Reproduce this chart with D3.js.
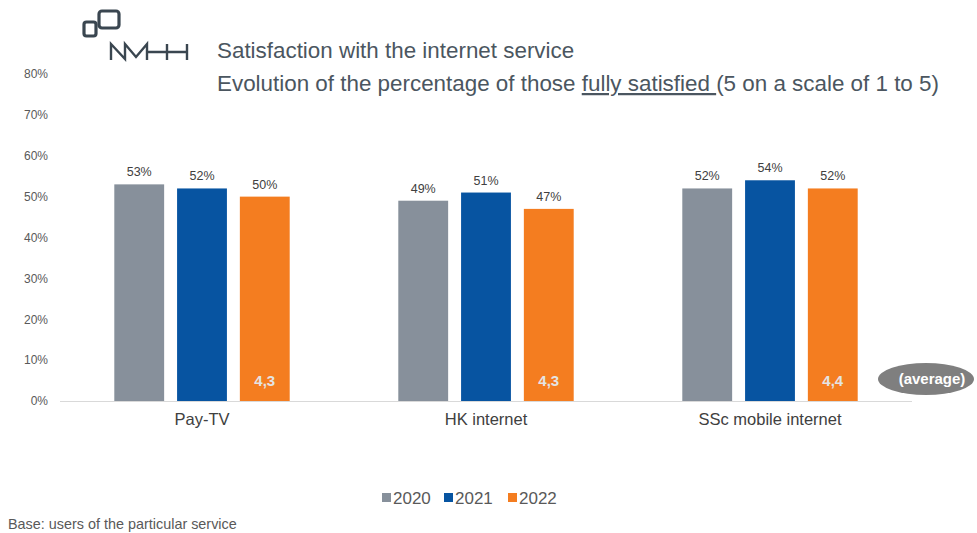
<!DOCTYPE html>
<html>
<head>
<meta charset="utf-8">
<script src="https://cdn.jsdelivr.net/npm/d3@7"></script>
<style>
  html, body { margin: 0; padding: 0; background: #fff; }
  svg { display: block; font-family: Arial, "Liberation Sans", sans-serif; }
</style>
</head>
<body>
<svg id="chart" width="977" height="533"></svg>
<script>
// Services surveyed
const categories = ["Pay-TV", "HK internet", "SSc mobile internet"];
// Survey years
const years = ["2020", "2021", "2022"];
// Share of fully satisfied users (%), per year
const values2020 = [53, 49, 52];
const values2021 = [52, 51, 54];
const values2022 = [50, 47, 52];
// Average score (1-5 scale) for 2022
const averages2022 = ["4,3", "4,3", "4,4"];
// Y axis ticks
const yTicks = [0, 10, 20, 30, 40, 50, 60, 70, 80];

const colors = { "2020": "#87909b", "2021": "#0754a1", "2022": "#f47d20" };
const seriesByYear = { "2020": values2020, "2021": values2021, "2022": values2022 };

const svg = d3.select("#chart");

// Plot area
const x0 = d3.scaleBand().domain(categories).range([60, 912]).paddingInner(0).paddingOuter(0);
const x1 = d3.scaleBand().domain(years).range([0, x0.bandwidth()]).paddingInner(0.206).paddingOuter(0.865);
const y = d3.scaleLinear().domain([0, 80]).range([401, 74]);

// Y axis labels (no line)
const yAxis = d3.axisLeft(y).tickValues(yTicks).tickFormat(d => d + "%").tickSize(0).tickPadding(0);
const gy = svg.append("g").attr("transform", "translate(48,0)").call(yAxis);
gy.select(".domain").remove();
gy.selectAll("text").attr("fill", "#595959").style("font-size", "12px").style("font-family", "Arial, 'Liberation Sans', sans-serif");

// Bars
const groups = svg.append("g").selectAll("g")
  .data(categories)
  .join("g")
  .attr("transform", d => `translate(${x0(d)},0)`);

groups.selectAll("rect")
  .data((c, i) => years.map(yr => ({ yr, v: seriesByYear[yr][i] })))
  .join("rect")
  .attr("x", d => x1(d.yr))
  .attr("width", x1.bandwidth())
  .attr("y", d => y(d.v))
  .attr("height", d => y(0) - y(d.v))
  .attr("fill", d => colors[d.yr]);

// Value labels above bars
groups.selectAll("text.val")
  .data((c, i) => years.map(yr => ({ yr, v: seriesByYear[yr][i] })))
  .join("text")
  .attr("class", "val")
  .attr("x", d => x1(d.yr) + x1.bandwidth() / 2)
  .attr("y", d => y(d.v) - 8)
  .attr("text-anchor", "middle")
  .attr("fill", "#404040")
  .style("font-size", "12.5px")
  .text(d => d.v + "%");

// Average score inside 2022 bars
groups.append("text")
  .attr("x", x1("2022") + x1.bandwidth() / 2)
  .attr("y", 386)
  .attr("text-anchor", "middle")
  .attr("fill", "#e4e4e4")
  .style("font-size", "15px")
  .style("font-weight", "bold")
  .text((c, i) => averages2022[i]);

// X axis baseline
svg.append("line")
  .attr("x1", 60).attr("x2", 912)
  .attr("y1", y(0) + 0.5).attr("y2", y(0) + 0.5)
  .attr("stroke", "#d9d9d9").attr("stroke-width", 1);

// Category labels
const xAxis = d3.axisBottom(x0).tickSize(0).tickPadding(0);
const gx = svg.append("g").attr("transform", `translate(0,${y(0) + 12})`).call(xAxis);
gx.select(".domain").remove();
gx.selectAll("text").attr("fill", "#404040").attr("dy", "0.71em")
  .style("font-size", "16.5px").style("font-family", "Arial, 'Liberation Sans', sans-serif");

// "(average)" badge
svg.append("ellipse").attr("cx", 926).attr("cy", 379).attr("rx", 48).attr("ry", 16).attr("fill", "#7f7f7f");
svg.append("text").attr("x", 932).attr("y", 384).attr("text-anchor", "middle")
  .attr("fill", "#fff").style("font-size", "15px").style("font-weight", "bold").text("(average)");

// Title
const title = svg.append("g").attr("fill", "#4b5660").style("font-size", "22.4px");
title.append("text").attr("x", 217).attr("y", 58).text("Satisfaction with the internet service");
const t2 = title.append("text").attr("x", 217).attr("y", 91);
t2.append("tspan").text("Evolution of the percentage of those ");
t2.append("tspan").attr("text-decoration", "underline").text("fully satisfied ");
t2.append("tspan").text("(5 on a scale of 1 to 5)");

// Logo
const logo = svg.append("g").attr("fill", "none").attr("stroke", "#3a4650");
logo.append("rect").attr("x", 84).attr("y", 22).attr("width", 12).attr("height", 14).attr("rx", 2.5).attr("stroke-width", 3.2);
logo.append("rect").attr("x", 99).attr("y", 11).attr("width", 20).attr("height", 17).attr("rx", 3).attr("stroke-width", 3.2);
logo.append("path").attr("stroke-width", 2.4).attr("stroke-linejoin", "miter")
  .attr("d", "M111,60 V44 L125,59 V44 L136,57 L147,44 V60 M147,52 H187 M167,44 V60 M187,44 V60");

// Legend
const legend = svg.append("g").attr("transform", "translate(382,498)");
const lx = [0, 62, 126];
years.forEach((yr, i) => {
  legend.append("rect").attr("x", lx[i]).attr("y", -5).attr("width", 9).attr("height", 9).attr("fill", colors[yr]);
  legend.append("text").attr("x", lx[i] + 11).attr("y", 6).attr("fill", "#595959")
    .style("font-size", "17px").text(yr);
});

// Footnote
svg.append("text").attr("x", 8).attr("y", 529).attr("fill", "#595959")
  .style("font-size", "14.4px").text("Base: users of the particular service");
</script>
</body>
</html>
